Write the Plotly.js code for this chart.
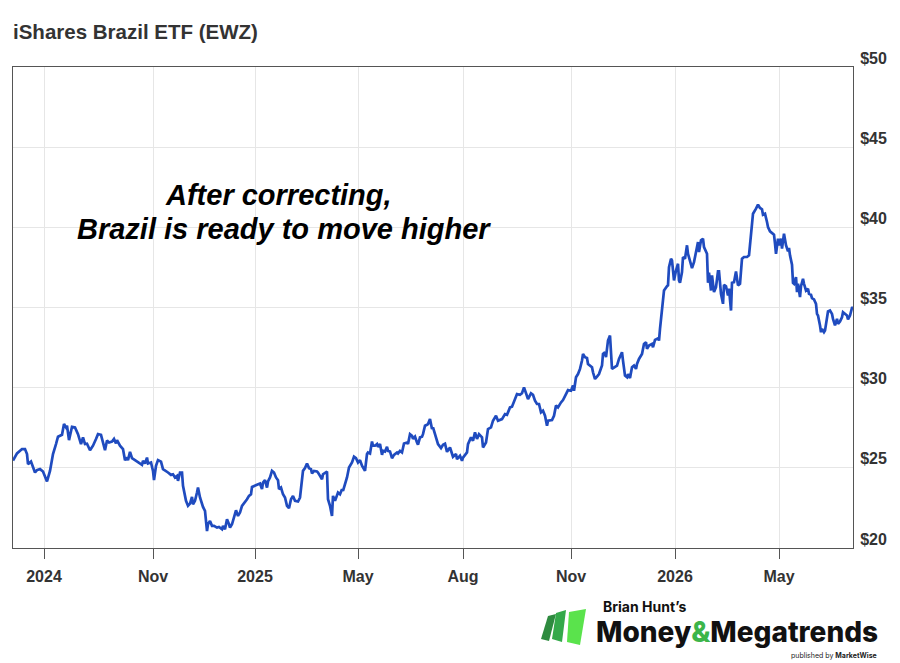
<!DOCTYPE html>
<html><head><meta charset="utf-8">
<script src="https://cdn.plot.ly/plotly-3.0.1.min.js"></script>
<style>html,body{margin:0;padding:0;background:#fff}#chart{width:900px;height:663px}</style>
</head><body><div id="chart"></div>
<script>
// Day index since start of the chart window
const days = [0,4,9,12,14,15,18,20,22,24,27,30,32,34,37,40,43,45,49,51,53,54,56,59,62,65,68,70,72,74,77,80,83,85,88,90,92,94,96,99,101,103,104,107,110,112,114,115,117,119,122,125,129,130,132,134,135,138,140,141,143,145,148,150,153,155,158,160,162,164,165,167,169,170,173,175,177,179,180,182,184,185,187,189,190,192,194,195,197,199,201,204,206,209,210,212,214,216,217,219,221,223,225,227,229,231,234,236,238,239,242,245,247,249,250,252,254,255,257,259,261,263,265,266,268,270,272,274,276,278,280,282,285,287,289,290,292,294,296,298,299,301,304,305,307,309,310,312,314,315,317,319,320,322,325,327,329,330,332,334,336,339,341,343,345,347,349,350,352,354,355,357,359,360,362,364,365,367,369,370,372,374,375,377,379,381,384,385,387,389,391,394,395,397,399,400,402,404,405,407,409,410,412,414,415,417,419,420,422,424,425,428,430,432,434,437,439,440,443,444,447,449,450,452,454,455,458,460,462,464,466,469,470,473,475,478,480,483,485,489,492,494,497,499,502,504,507,509,511,513,515,518,520,522,524,526,528,530,532,534,535,539,541,543,545,548,550,553,555,558,560,561,563,565,567,569,570,572,574,575,577,579,580,582,584,586,589,590,592,593,595,597,599,601,604,606,609,610,612,614,615,617,619,621,623,624,626,629,631,633,634,636,639,640,642,645,646,647,649,651,654,655,656,658,659,660,661,663,665,666,667,669,670,672,674,675,677,679,681,684,685,686,688,690,691,694,695,696,698,699,701,703,705,706,708,710,711,713,715,716,718,719,721,723,725,727,729,731,734,736,738,740,743,745,747,749,750,752,754,755,757,759,761,762,763,765,766,768,769,771,773,775,776,777,779,780,781,783,784,785,787,788,790,791,793,795,796,798,799,801,803,804,805,807,808,809,811,812,814,815,817,819,820,822,824,825,827,829,830,832,834,835,837,839,840];
const prices = [25.45,25.9,26.17,26.17,25.86,25.23,25.39,25.06,24.71,24.86,24.92,24.77,24.5,24.15,24.81,25.86,26.48,26.94,27.06,27.73,27.52,27.63,26.73,27.56,27.52,27.1,26.48,26.9,26.48,26.5,26.1,26.38,26.8,27.1,27.06,26.58,26.1,26.7,26.58,26.64,26.8,26.52,26.73,26.38,26.17,25.48,25.64,25.48,26.0,25.6,25.48,25.33,25.19,25.44,25.27,25.64,25.27,25.33,24.81,24.23,25.13,25.48,25.39,24.92,24.81,24.71,24.56,24.6,24.4,24.5,24.19,24.71,24.71,23.88,22.94,22.63,22.77,23.19,22.73,22.94,23.46,23.77,23.15,22.63,22.56,22.31,21.06,21.48,21.69,21.38,21.38,21.27,21.31,21.17,21.38,21.17,21.79,21.48,21.27,21.48,21.9,22.35,22.0,22.21,22.63,22.77,23.04,23.25,23.35,23.81,23.88,23.94,24.02,23.67,24.08,24.23,23.77,24.15,24.4,24.81,24.71,24.4,24.23,23.67,23.77,23.35,23.15,22.63,22.48,23.04,23.25,22.94,22.9,23.15,24.19,24.81,24.98,25.27,24.98,24.92,24.65,24.81,24.77,24.71,24.5,24.29,24.6,24.71,24.77,23.04,22.63,22.0,23.25,22.94,23.46,23.35,23.67,23.56,23.98,24.4,25.02,25.33,25.69,25.6,25.33,25.48,25.13,25.02,24.81,25.86,25.96,25.9,26.64,26.38,26.38,26.48,26.31,26.48,25.81,26.06,26.02,26.31,26.06,26.02,25.6,25.81,25.96,25.9,26.06,25.96,26.52,26.58,26.48,27.1,27.0,26.8,26.94,26.58,26.44,26.9,26.94,27.1,27.63,27.69,27.73,28.04,27.42,27.52,27.1,26.69,26.48,26.23,26.44,26.5,26.0,26.27,25.96,25.69,25.86,25.54,25.75,25.44,25.64,25.81,25.96,26.48,26.9,26.69,27.21,26.8,27.1,26.9,26.27,26.58,27.42,27.52,27.94,28.25,27.94,28.04,28.35,28.31,28.77,28.81,29.29,29.6,29.56,29.65,30.02,29.65,29.29,29.65,29.56,29.19,28.98,28.98,28.46,28.56,28.25,27.63,27.94,27.98,28.25,28.88,28.77,29.08,29.23,29.6,29.85,29.81,30.13,29.81,30.65,30.85,31.17,31.69,32.1,31.9,31.85,31.48,31.38,31.27,30.96,30.54,30.69,30.85,31.38,32.1,32.21,31.9,32.94,33.25,31.17,31.27,31.38,31.79,32.21,31.69,30.75,30.65,30.85,30.6,31.27,31.38,31.17,31.48,31.79,32.1,32.73,32.83,32.42,32.63,32.73,32.52,32.98,33.08,32.94,33.67,34.98,36.06,36.33,36.38,37.52,38.04,37.94,37.0,36.69,37.31,37.73,36.69,36.54,37.21,38.15,38.04,38.88,38.35,37.94,37.46,37.83,38.88,39.08,38.46,39.19,39.29,38.77,38.35,36.54,37.17,36.06,37.0,35.96,36.27,37.25,37.25,35.85,35.23,36.42,36.33,35.75,36.17,34.81,36.54,36.58,37.25,36.38,36.48,38.04,38.15,38.15,38.25,39.71,40.85,41.17,41.42,41.21,41.13,40.79,40.85,40.33,40.02,39.75,39.67,39.54,38.98,38.35,39.29,38.88,39.29,38.67,39.6,38.88,38.5,38.71,38.25,37.67,36.54,36.48,36.9,35.96,36.48,35.65,36.33,36.79,36.48,36.06,36.17,35.85,35.79,35.58,35.5,35.23,34.6,34.5,33.88,33.46,33.67,33.46,33.56,34.29,34.75,34.81,34.6,34.29,33.88,34.29,33.98,34.13,34.39,34.71,34.6,34.5,34.25,34.5,34.98,35.0];

const tickDays = [31,140,242,345,450,558,662,766];
const tickLabels = ['2024','Nov','2025','May','Aug','Nov','2026','May'];
const priceTicks = [20,25,30,35,40,45,50];
const priceLabels = ['$20','$25','$30','$35','$40','$45','$50'];

const W = 900, H = 663, L = 13, R = 853, T = 67, B = 548;
const px = x => (x - L) / (R - L);
const py = y => (B - y) / (B - T);
function poly(pts, color) {
  const d = pts.map((p, i) => (i ? 'L' : 'M') + px(p[0]).toFixed(5) + ',' + py(p[1]).toFixed(5)).join(' ') + ' Z';
  return {type: 'path', xref: 'paper', yref: 'paper', path: d, fillcolor: color, line: {width: 0}, layer: 'above'};
}

const trace = {
  x: days, y: prices, type: 'scatter', mode: 'lines',
  line: {color: '#1f4bbf', width: 2.7, shape: 'linear'},
  hoverinfo: 'skip'
};

const axisFont = {family: 'Liberation Sans, Arial, sans-serif', size: 16, color: '#333', weight: 700};
const noteFont = {family: 'Liberation Sans, Arial, sans-serif', size: 29, color: '#000', weight: 700, style: 'italic'};

const layout = {
  width: W, height: H,
  margin: {l: L, r: W - R, t: T, b: H - B, pad: 0},
  paper_bgcolor: '#fff', plot_bgcolor: '#fff',
  showlegend: false,
  title: {
    text: 'iShares Brazil ETF (EWZ)',
    font: {family: 'Liberation Sans, Arial, sans-serif', size: 20.5, color: '#333', weight: 700},
    xref: 'container', yref: 'container', x: 13 / W, xanchor: 'left',
    y: 1 - 32 / H, yanchor: 'middle'
  },
  xaxis: {
    range: [0, 840], tickmode: 'array', tickvals: tickDays, ticktext: tickLabels,
    ticks: 'outside', ticklen: 10, tickwidth: 1, tickcolor: '#555', ticklabelstandoff: 4,
    showgrid: true, gridcolor: '#e6e6e6', gridwidth: 1,
    showline: true, linecolor: '#555', linewidth: 1, mirror: true,
    zeroline: false, tickfont: axisFont, fixedrange: true
  },
  yaxis: {
    range: [20, 50], side: 'right', tickmode: 'array', tickvals: priceTicks, ticktext: priceLabels,
    ticks: '', ticklabelshift: -9, ticklabelstandoff: 3,
    showgrid: true, gridcolor: '#e6e6e6', gridwidth: 1,
    showline: true, linecolor: '#555', linewidth: 1, mirror: true,
    zeroline: false, tickfont: axisFont, fixedrange: true
  },
  annotations: [
    {
      text: 'After correcting,',
      xref: 'paper', yref: 'paper', x: px(278), y: py(195), xanchor: 'center', yanchor: 'middle',
      showarrow: false, font: noteFont
    },
    {
      text: 'Brazil is ready to move higher',
      xref: 'paper', yref: 'paper', x: px(284), y: py(229), xanchor: 'center', yanchor: 'middle',
      showarrow: false, font: noteFont
    },
    {
      text: "Brian Hunt\u2019s",
      xref: 'paper', yref: 'paper', x: px(601), y: py(606), xanchor: 'left', yanchor: 'middle',
      showarrow: false,
      font: {family: 'Inter, Roboto, sans-serif', size: 14, color: '#111', weight: 700}
    },
    {
      text: 'Money<span style="color:#3cb54a">&</span>Megatrends',
      xref: 'paper', yref: 'paper', x: px(594), y: py(632), xanchor: 'left', yanchor: 'middle',
      showarrow: false,
      font: {family: 'Inter, Roboto, sans-serif', size: 28, color: '#111', weight: 800}
    },
    {
      text: 'published by <b>MarketWise</b>',
      xref: 'paper', yref: 'paper', x: px(879), y: py(655), xanchor: 'right', yanchor: 'middle',
      showarrow: false,
      font: {family: 'Inter, Roboto, sans-serif', size: 7, color: '#222'}
    }
  ],
  shapes: [
    poly([[541, 639], [548, 616], [556, 614], [549, 641]], '#2e8b3f'),
    poly([[552, 639], [556, 613], [566, 610], [562, 642]], '#34a94a'),
    poly([[567, 642], [569, 612], [586, 609], [580, 645]], '#5ae34c')
  ]
};

Plotly.newPlot('chart', [trace], layout, {displayModeBar: false, staticPlot: true});
</script>
</body></html>
